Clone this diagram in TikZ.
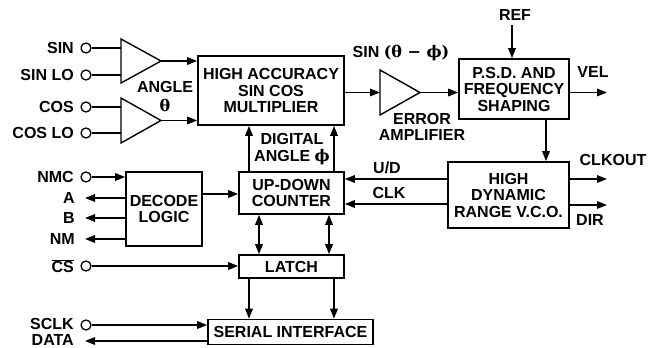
\documentclass[tikz,border=0pt]{standalone}
\usepackage{fontspec}
\setmainfont{Liberation Sans}
\newfontfamily\grk{DejaVu Serif}
\usetikzlibrary{arrows.meta}
\begin{document}
\begin{tikzpicture}[x=1pt,y=-1pt,
  every node/.style={font=\fontsize{16}{16.5}\selectfont\bfseries, inner sep=0pt},
  blk/.style={draw, line width=1.6pt, align=center},
  lbl/.style={align=center},
  pin/.style={circle, draw, fill=white, line width=1.3pt, minimum size=10pt, inner sep=0pt},
  wire/.style={line width=1.6pt},
  arr/.style={wire, -{Triangle[length=10pt,width=7.5pt]}},
  darr/.style={wire, {Triangle[length=10pt,width=7.5pt]}-{Triangle[length=10pt,width=7.5pt]}},
  amp/.style={line width=1.4pt, fill=white, line join=miter}
]
\useasboundingbox (0,0) rectangle (656,348);

% blocks
\node[blk, minimum width=146pt, minimum height=69pt] (mult) at (271,90.5) {HIGH ACCURACY\\SIN COS\\MULTIPLIER};
\node[blk, minimum width=110pt, minimum height=60pt] (psd) at (514,89) {P.S.D. AND\\FREQUENCY\\SHAPING};
\node[blk, minimum width=121pt, minimum height=66pt] (vco) at (508.5,195) {HIGH\\DYNAMIC\\RANGE V.C.O.};
\node[blk, minimum width=105pt, minimum height=42pt] (cnt) at (291.5,193) {UP-DOWN\\COUNTER};
\node[blk, minimum width=76pt, minimum height=74pt] (dec) at (164,209) {DECODE\\LOGIC};
\node[blk, minimum width=105pt, minimum height=23pt] (latch) at (291.5,266.5) {LATCH};
\node[blk, minimum width=165pt, minimum height=25pt] (ser) at (290.5,332) {SERIAL INTERFACE};

% amplifiers
\draw[amp] (121,39) -- (161,61) -- (121,83) -- cycle;
\draw[amp] (121,98) -- (161,120.5) -- (121,143) -- cycle;
\draw[amp] (380,70) -- (420,92.5) -- (380,115) -- cycle;
\coordinate (a1) at (161,61);
\coordinate (a2) at (161,120.5);
\coordinate (ampL) at (121,0);
\coordinate (e1) at (380,92.5);
\coordinate (e2) at (420,92.5);

% pins
\node[pin] (sinp) at (86,48) {};
\node[pin] (sinlop) at (86,75) {};
\node[pin] (cosp) at (86,107) {};
\node[pin] (coslop) at (86,133) {};
\node[pin] (nmcp) at (86,177) {};
\node[pin] (csp) at (86,266) {};
\node[pin] (sclkp) at (86,325) {};

% left labels
\node[anchor=east] (sinl) at (74,48) {SIN};
\node[anchor=east] (sinlol) at (74,75) {SIN LO};
\node[anchor=east] (cosl) at (74,107) {COS};
\node[anchor=east] (coslol) at (74,133) {COS LO};
\node[anchor=east] (nmcl) at (74,177) {NMC};
\node[anchor=east] (al) at (75,198) {A};
\node[anchor=east] (bl) at (75,218) {B};
\node[anchor=east] (nml) at (75,239) {NM};
\node[anchor=east] (csl) at (74,266) {$\overline{\hbox{CS}}$};
\node[anchor=east] (sclkl) at (74,324) {SCLK};
\node[anchor=east] (datal) at (74,339.5) {DATA};

% other labels
\node[lbl] (anglel) at (165,87) {ANGLE};
\node[lbl] (thetal) at (165,105) {{\grk θ}};
\node[lbl] (errl) at (401,53) {SIN {\grk (θ − ϕ)}};
\node[lbl] (eal) at (422,127) {ERROR\\AMPLIFIER};
\node[lbl] (dal) at (292,149) {DIGITAL\\ANGLE {\grk ϕ}};
\node[lbl] (refl) at (515,15) {REF};
\node[lbl] (vell) at (593,72) {VEL};
\node[lbl] (ckl) at (613,160) {CLKOUT};
\node[lbl] (dirl) at (590,220) {DIR};
\node[lbl] (udl) at (387,168) {U/D};
\node[lbl] (clkl) at (389,193) {CLK};

% amp inputs
\draw[wire] (sinp) -- (sinp -| ampL);
\draw[wire] (sinlop) -- (sinlop -| ampL);
\draw[wire] (cosp) -- (cosp -| ampL);
\draw[wire] (coslop) -- (coslop -| ampL);

% signal path
\draw[arr] (a1) -- (a1 -| mult.west);
\draw[arr] (a2) -- (a2 -| mult.west);
\draw[arr] (e1 -| mult.east) -- (e1);
\draw[arr] (e2) -- (e2 -| psd.west);
\coordinate (reftop) at (512,25);
\draw[arr] (reftop) -- (reftop |- psd.north);
\coordinate (velend) at (607,92.5);
\draw[arr] (velend -| psd.east) -- (velend);
\coordinate (psdv) at (546,0);
\draw[arr] (psdv |- psd.south) -- (psdv |- vco.north);
\coordinate (ckend) at (607,179);
\draw[arr] (ckend -| vco.east) -- (ckend);
\coordinate (dirend) at (607,205);
\draw[arr] (dirend -| vco.east) -- (dirend);
\coordinate (ud) at (0,179);
\draw[arr] (ud -| vco.west) -- (ud -| cnt.east);
\coordinate (ck) at (0,204);
\draw[arr] (ck -| vco.west) -- (ck -| cnt.east);

% counter / latch / serial
\coordinate (x1) at (249,0);
\coordinate (x2) at (334,0);
\coordinate (x3) at (259,0);
\coordinate (x4) at (329,0);
\draw[arr] (x1 |- cnt.north) -- (x1 |- mult.south);
\draw[arr] (x2 |- cnt.north) -- (x2 |- mult.south);
\draw[darr] (x3 |- cnt.south) -- (x3 |- latch.north);
\draw[darr] (x4 |- cnt.south) -- (x4 |- latch.north);
\draw[arr] (x1 |- latch.south) -- (x1 |- ser.north);
\draw[arr] (x2 |- latch.south) -- (x2 |- ser.north);
\coordinate (dc) at (0,194);
\draw[arr] (dc -| dec.east) -- (dc -| cnt.west);

% decode I/O
\draw[arr] (nmcp) -- (nmcp -| dec.west);
\coordinate (aend) at (85,198);
\coordinate (bend) at (85,218);
\coordinate (nmend) at (85,239);
\draw[arr] (aend -| dec.west) -- (aend);
\draw[arr] (bend -| dec.west) -- (bend);
\draw[arr] (nmend -| dec.west) -- (nmend);
\draw[arr] (csp) -- (csp -| latch.west);
\draw[arr] (sclkp) -- (sclkp -| ser.west);
\coordinate (dataend) at (85,341);
\draw[arr] (dataend -| ser.west) -- (dataend);
\end{tikzpicture}
\end{document}
